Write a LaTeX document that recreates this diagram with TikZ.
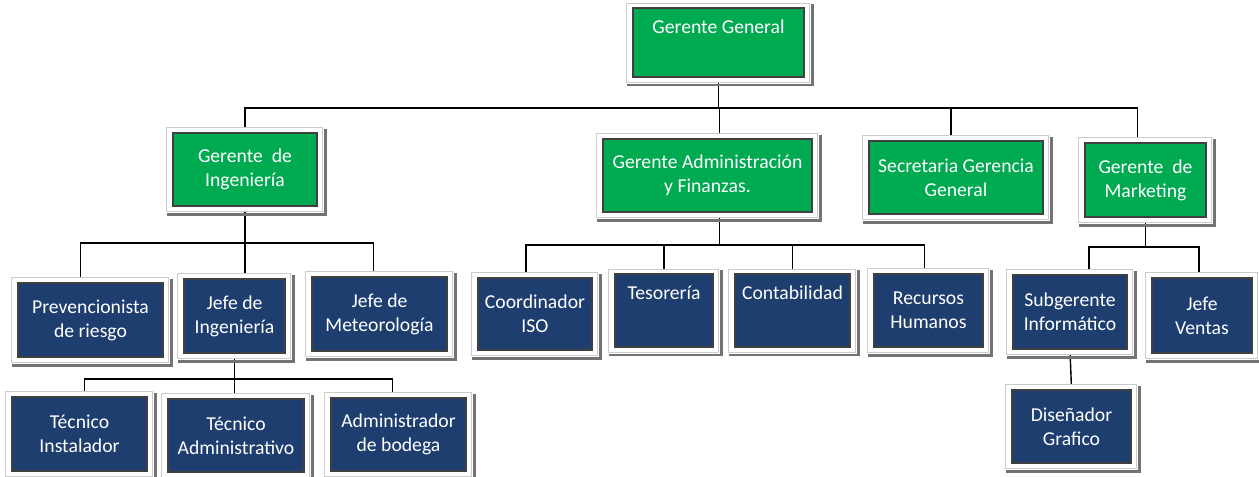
\documentclass[tikz,border=0pt]{standalone}
\usepackage{fontspec}
\setmainfont{Carlito}
\usetikzlibrary{positioning}
\definecolor{boxgreen}{RGB}{0,170,80}
\definecolor{boxblue}{RGB}{31,62,112}
\pgfdeclarelayer{back}
\pgfsetlayers{back,main}
\tikzset{
every picture/.style={line width=0.8pt},
%%%%%%%%%%  Box styles
box/.style={rectangle, draw=black!75, line width=1.3pt, text=white,
            align=center, inner sep=0pt,
            font=\fontsize{11.2}{13.6}\selectfont},
boxsize/.style 2 args={minimum width=#1*0.02cm, minimum height=#2*0.02cm},
greenbox/.style={box, fill=boxgreen},
bluebox/.style={box, fill=boxblue},
%% single line text near the top of the box
toptext/.style 2 args={text height=#1*0.567pt, text depth=#2*0.567pt},
%%%%%%%%%%  Frame round each box
frame/.style={draw=black!20, line width=0.5pt, fill=white},
shadowline/.style={draw=black!55, line width=1.6pt},
%%%%%%%%%%  Connectors
link/.style={line width=0.8pt, draw=black}
}
\begin{document}
\begin{tikzpicture}[x=0.02cm, y=-0.02cm]
\useasboundingbox (0,0) rectangle (1259,477);

%% top level
\node[greenbox, toptext={25}{44}, minimum width=171*0.02cm] (gg) at (718.5,42.5) {Gerente General};

%% managers
\node[greenbox, boxsize={144}{73}] (gi) at (245,169.5) {Gerente \ de\\Ingeniería};
\node[greenbox, boxsize={209}{73}] (ga) at (707.5,175.5) {Gerente Administración\\y Finanzas.};
\node[greenbox, boxsize={174}{73}] (sg) at (956,177.5) {Secretaria Gerencia\\General};
\node[greenbox, boxsize={121}{74}] (gm) at (1145.5,180) {Gerente \ de\\Marketing};

%% engineering
\node[bluebox, boxsize={145}{74}] (prev) at (90.5,320) {Prevencionista\\de riesgo};
\node[bluebox, boxsize={101}{74}] (jing) at (234.5,316) {Jefe de\\Ingeniería};
\node[bluebox, boxsize={135}{74}] (jmet) at (379.5,314) {Jefe de\\Meteorología};
\node[bluebox, boxsize={135}{74}] (tinst) at (79.5,434) {Técnico\\Instalador};
\node[bluebox, boxsize={136}{73}] (tadm) at (236,435.5) {Técnico\\Administrativo};
\node[bluebox, boxsize={135}{73}] (adb) at (398.5,434.5) {Administrador\\de bodega};

%% administration
\node[bluebox, boxsize={114}{72}] (coord) at (535,314) {Coordinador\\ISO};
\node[bluebox, toptext={25}{48}, minimum width=98*0.02cm] (tes) at (664,310.5) {Tesorería};
\node[bluebox, toptext={25}{48}, minimum width=115*0.02cm] (cont) at (792.5,310.5) {Contabilidad};
\node[bluebox, boxsize={109}{73}] (rrhh) at (928.5,310.5) {Recursos\\Humanos};

%% marketing
\node[bluebox, boxsize={114}{74}] (subg) at (1070,312) {Subgerente\\Informático};
\node[bluebox, boxsize={100}{75}] (jven) at (1202,315.5) {Jefe\\Ventas};
\node[bluebox, boxsize={119}{73}] (dis) at (1071.5,426.5) {Diseñador\\Grafico};

\coordinate (bus0) at (0,108);
\coordinate (bus1) at (0,243);
\coordinate (bus2) at (0,379);
\coordinate (bus3) at (0,245);
\coordinate (bus4) at (0,247);

\begin{pgfonlayer}{back}
%% connectors
\draw[link] (gg.south) -- (gg.south |- bus0);
\draw[link] (gi.north) -- (gi.north |- bus0) -- ([shift={(-8,0)}]gm.north |- bus0) -- ([shift={(-8,0)}]gm.north);
\draw[link] ([shift={(12,0)}]ga.north) -- ([shift={(12,0)}]ga.north |- bus0);
\draw[link] ([shift={(-5,0)}]sg.north) -- ([shift={(-5,0)}]sg.north |- bus0);

\draw[link] (gi.south) -- (gi.south |- jing.north);
\draw[link] ([shift={(-10,0)}]prev.north) -- ([shift={(-10,0)}]prev.north |- bus1) -- ([shift={(-6,0)}]jmet.north |- bus1) -- ([shift={(-6,0)}]jmet.north);

\draw[link] (jing.south) -- (jing.south |- tadm.north);
\draw[link] ([shift={(5,0)}]tinst.north) -- ([shift={(5,0)}]tinst.north |- bus2) -- ([shift={(-6,0)}]adb.north |- bus2) -- ([shift={(-6,0)}]adb.north);

\draw[link] ([shift={(12,0)}]ga.south) -- ([shift={(12,0)}]ga.south |- bus3);
\draw[link] ([shift={(-9,0)}]coord.north) -- ([shift={(-9,0)}]coord.north |- bus3) -- ([shift={(-4,0)}]rrhh.north |- bus3) -- ([shift={(-4,0)}]rrhh.north);
\draw[link] (tes.north) -- (tes.north |- bus3);
\draw[link] (cont.north) -- (cont.north |- bus3);

\draw[link] (gm.south) -- (gm.south |- bus4);
\draw[link] ([shift={(19,0)}]subg.north) -- ([shift={(19,0)}]subg.north |- bus4) -- ([shift={(-3,0)}]jven.north |- bus4) -- ([shift={(-3,0)}]jven.north);
\draw[link] (subg.south) -- (dis.north);

%% white frames with shadow
\foreach \n in {gg,gi,ga,sg,gm,prev,jing,jmet,tinst,tadm,adb,coord,tes,cont,rrhh,subg,jven,dis}{
  \filldraw[frame] ([shift={(-5,-4)}]\n.north west) rectangle ([shift={(4,4)}]\n.south east);
  \draw[shadowline] ([shift={(-5,7)}]\n.south west) -- ([shift={(7,7)}]\n.south east) -- ([shift={(7,-3)}]\n.north east);
}
\end{pgfonlayer}
\end{tikzpicture}
\end{document}
